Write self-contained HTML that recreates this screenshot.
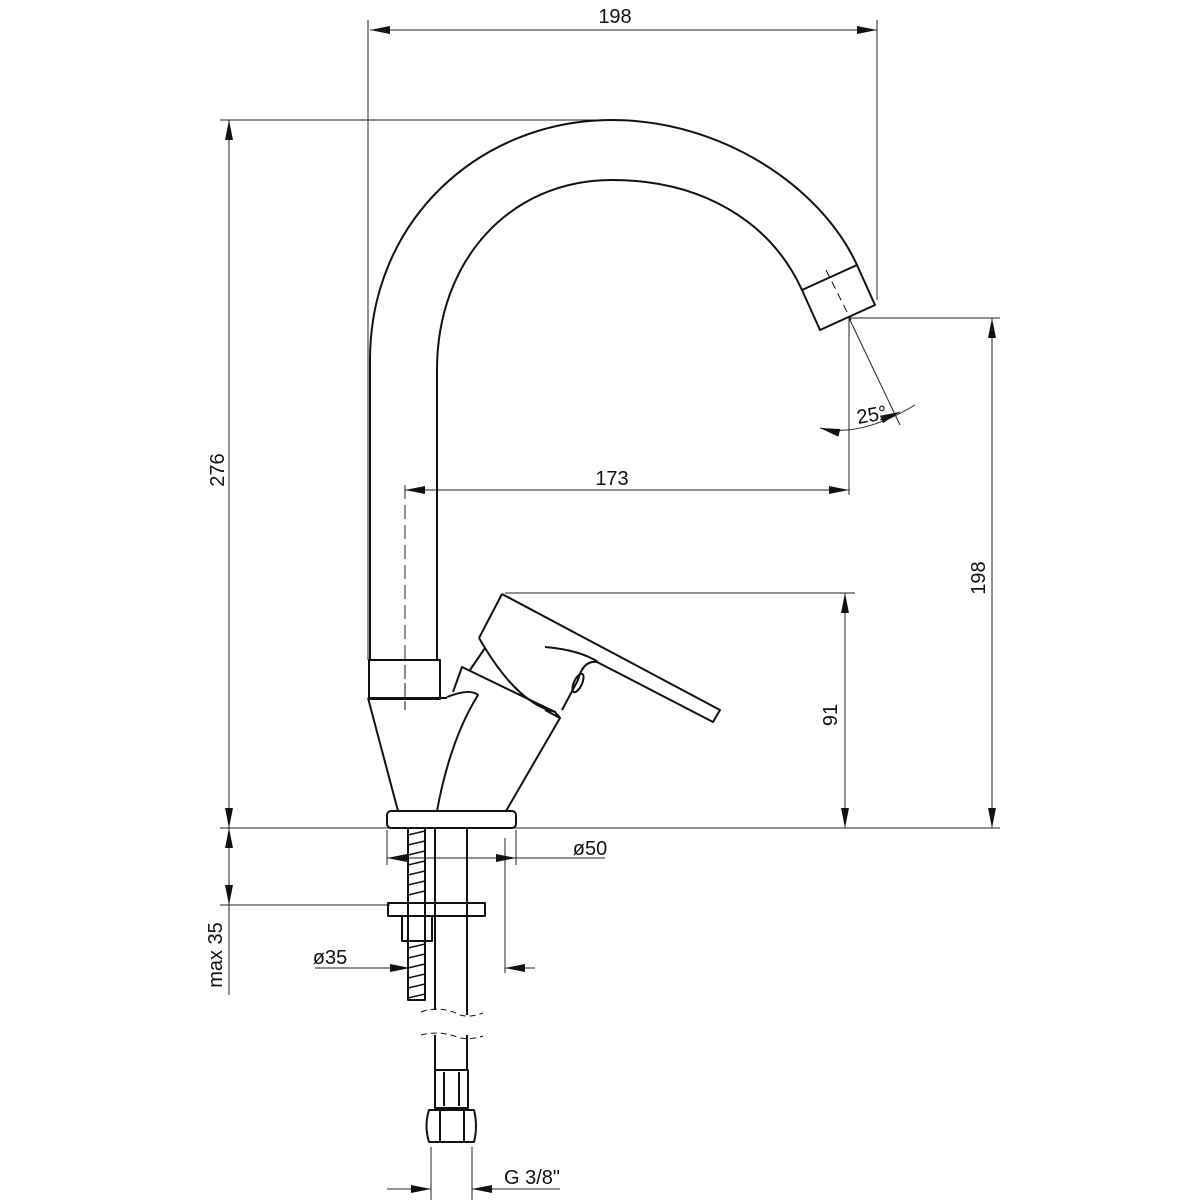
<!DOCTYPE html>
<html><head><style>html,body{margin:0;padding:0;background:#fff}svg{display:block}</style></head>
<body>
<svg width="1200" height="1200" viewBox="0 0 1200 1200" xmlns="http://www.w3.org/2000/svg" font-family="Liberation Sans Narrow, Liberation Sans, sans-serif">
<defs>
<marker id="a" viewBox="0 0 20 8" refX="20" refY="4" markerWidth="20" markerHeight="8" markerUnits="userSpaceOnUse" orient="auto-start-reverse"><path d="M0,0 L20,4 L0,8 Z" fill="#111"/></marker>
</defs>
<g stroke="#222" stroke-width="1" fill="none">
<line x1="368" y1="20" x2="368" y2="660"/>
<line x1="877" y1="20" x2="877" y2="300"/>
<line x1="220" y1="120" x2="612" y2="120"/>
<line x1="850" y1="318" x2="1000" y2="318"/>
<line x1="220" y1="828" x2="1000" y2="828"/>
<line x1="505" y1="593" x2="855" y2="593"/>
<line x1="405" y1="485" x2="405" y2="700" stroke-dasharray="14,6"/>
<line x1="849" y1="318" x2="849" y2="495"/>
<line x1="849" y1="318" x2="900" y2="425"/>
<line x1="220" y1="905" x2="390" y2="905"/>
<line x1="387" y1="830" x2="387" y2="865"/>
<line x1="516" y1="830" x2="516" y2="865"/>
<line x1="505" y1="838" x2="505" y2="973"/>
<line x1="431" y1="1147" x2="431" y2="1200"/>
<line x1="472" y1="1147" x2="472" y2="1200"/>
<line x1="370" y1="30" x2="877" y2="30" marker-start="url(#a)" marker-end="url(#a)"/>
<line x1="229" y1="120" x2="229" y2="828" marker-start="url(#a)" marker-end="url(#a)"/>
<line x1="992" y1="318" x2="992" y2="828" marker-start="url(#a)" marker-end="url(#a)"/>
<line x1="405" y1="490" x2="849" y2="490" marker-start="url(#a)" marker-end="url(#a)"/>
<line x1="845" y1="593" x2="845" y2="828" marker-start="url(#a)" marker-end="url(#a)"/>
<line x1="229" y1="848" x2="229" y2="828" marker-end="url(#a)"/>
<line x1="229" y1="905" x2="229" y2="995"/>
<line x1="229" y1="848" x2="229" y2="885"/>
<line x1="229" y1="885" x2="229" y2="905" marker-end="url(#a)"/>
<line x1="387" y1="858" x2="605" y2="858" marker-start="url(#a)"/>
<line x1="495" y1="858" x2="516" y2="858" marker-end="url(#a)"/>
<line x1="315" y1="968" x2="410" y2="968" marker-end="url(#a)"/>
<line x1="535" y1="968" x2="505" y2="968" marker-end="url(#a)"/>
<line x1="387" y1="1189" x2="431" y2="1189" marker-end="url(#a)"/>
<line x1="560" y1="1189" x2="472" y2="1189" marker-end="url(#a)"/>
<path d="M820,428 Q860,438 915,405" marker-start="url(#a)"/>
<line x1="880" y1="420" x2="900" y2="412" marker-end="url(#a)"/>
</g>
<g stroke="#111" stroke-width="2" fill="none" stroke-linejoin="round">
<path d="M370,660 V360 C370,220 480,120 612,120 C720,120 820,185 857,265 L875,305 L820,330 L802,290 C770,220 700,180 612,180 C510,180 437,260 437,370 V660"/>
<line x1="802" y1="290" x2="857" y2="265"/>
<line x1="820" y1="330" x2="875" y2="305" stroke-width="1.5"/>
<line x1="826" y1="270" x2="851" y2="320" stroke-width="1" stroke-dasharray="8,5"/>
<rect x="369" y="660" width="71" height="39"/>
<line x1="405" y1="665" x2="405" y2="710" stroke-width="1" stroke-dasharray="12,6"/>
<!-- cone -->
<path d="M368,698 H447 M368,698 L398,811"/>
<path d="M447,697 Q470,688 478,695 Q450,740 437,811"/>
<!-- body -->
<path d="M453,692 L462,667 L555,712 L560,718 L506,811"/>
<path d="M485,648 L470,670"/>
<path d="M485,648 Q520,705 556,712 M545,710 L560,718"/>
<path d="M502,594 L720,710 L713,722 L597,662 Q583,660 578,680 L562,710 M479,638 L502,594 M479,638 L485,648"/>
<path d="M545,647 Q580,650 598,662"/>
<ellipse cx="578" cy="683" rx="4" ry="10" transform="rotate(25 578 683)"/>
<rect x="387" y="811" width="129" height="17" rx="4"/>
<rect x="408" y="828" width="17" height="172"/>
<rect x="388" y="903" width="97" height="13"/>
<rect x="402" y="916" width="30" height="25"/>
<line x1="435" y1="828" x2="435" y2="1010"/><line x1="467" y1="828" x2="467" y2="1015"/>
<line x1="435" y1="1035" x2="435" y2="1070"/><line x1="467" y1="1035" x2="467" y2="1070"/>
<path d="M421,1012 Q440,1005 460,1015 Q470,1018 483,1013" stroke-width="1" stroke-dasharray="6,4"/>
<path d="M421,1035 Q440,1030 460,1038 Q470,1040 483,1036" stroke-width="1" stroke-dasharray="6,4"/>
<rect x="435" y="1070" width="33" height="38"/>
<line x1="444" y1="1072" x2="444" y2="1106"/><line x1="459" y1="1072" x2="459" y2="1106"/>
<path d="M429,1110 H474 Q478,1126 474,1142 H429 Q424,1126 429,1110 Z"/>
<line x1="440" y1="1110" x2="440" y2="1142"/><line x1="464" y1="1110" x2="464" y2="1142"/>
</g>
<g stroke="#111" stroke-width="1.5">
<path d="M408,835 L425,831 M408,845 L425,841 M408,855 L425,851 M408,865 L425,861 M408,875 L425,871 M408,885 L425,881 M408,895 L425,891 M408,948 L425,944 M408,958 L425,954 M408,968 L425,964 M408,978 L425,974 M408,988 L425,984 M408,998 L425,994"/>
</g>
<g fill="#111" font-size="20">
<text x="615" y="23" text-anchor="middle">198</text>
<text x="612" y="485" text-anchor="middle">173</text>
<text x="858" y="424" transform="rotate(-10 858 424)">25°</text>
<text x="590" y="855" text-anchor="middle">ø50</text>
<text x="330" y="964" text-anchor="middle">ø35</text>
<text x="532" y="1184" text-anchor="middle">G 3/8"</text>
<text transform="translate(224,470) rotate(-90)" text-anchor="middle">276</text>
<text transform="translate(985,578) rotate(-90)" text-anchor="middle">198</text>
<text transform="translate(837,715) rotate(-90)" text-anchor="middle">91</text>
<text transform="translate(222,955) rotate(-90)" text-anchor="middle">max 35</text>
</g>
</svg>
</body></html>
